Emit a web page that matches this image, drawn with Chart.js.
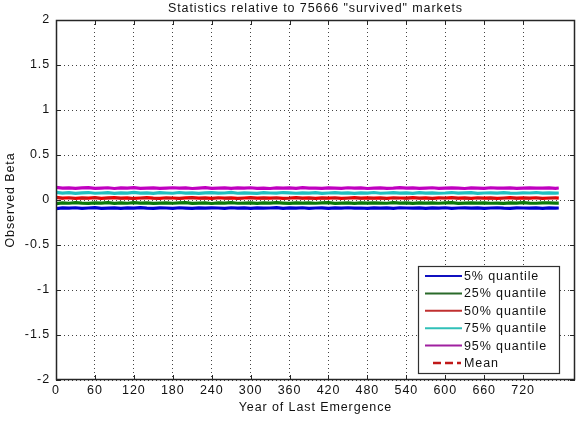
<!DOCTYPE html>
<html><head><meta charset="utf-8">
<script src="https://cdn.jsdelivr.net/npm/chart.js@4/dist/chart.umd.min.js"></script>
<style>html,body{margin:0;padding:0;background:#fff}#wrap{width:581px;height:421px}</style>
</head><body><div id="wrap"><canvas id="c" width="581" height="421"></canvas></div>
<script>
const years=[0,10,20,30,40,50,60,70,80,90,100,110,120,130,140,150,160,170,180,190,200,210,220,230,240,250,260,270,280,290,300,310,320,330,340,350,360,370,380,390,400,410,420,430,440,450,460,470,480,490,500,510,520,530,540,550,560,570,580,590,600,610,620,630,640,650,660,670,680,690,700,710,720,730,740,750,760,770,775];
const q05=[-0.095,-0.088,-0.091,-0.086,-0.093,-0.089,-0.084,-0.092,-0.090,-0.087,
-0.094,-0.088,-0.091,-0.085,-0.090,-0.093,-0.087,-0.089,-0.092,-0.086,
-0.090,-0.094,-0.088,-0.091,-0.087,-0.089,-0.093,-0.086,-0.090,-0.088,
-0.092,-0.087,-0.091,-0.089,-0.085,-0.093,-0.088,-0.090,-0.086,-0.092,
-0.089,-0.087,-0.094,-0.088,-0.090,-0.086,-0.091,-0.089,-0.093,-0.087,
-0.090,-0.088,-0.092,-0.086,-0.089,-0.091,-0.087,-0.093,-0.088,-0.090,
-0.086,-0.092,-0.089,-0.087,-0.091,-0.088,-0.094,-0.089,-0.086,-0.090,
-0.092,-0.087,-0.089,-0.091,-0.088,-0.093,-0.087,-0.090,-0.089];
const q25=[-0.040,-0.031,-0.036,-0.029,-0.035,-0.038,-0.032,-0.034,-0.030,-0.037,
-0.033,-0.036,-0.029,-0.035,-0.032,-0.038,-0.034,-0.031,-0.036,-0.033,
-0.030,-0.037,-0.034,-0.032,-0.039,-0.033,-0.035,-0.030,-0.036,-0.034,
-0.031,-0.037,-0.033,-0.035,-0.029,-0.034,-0.038,-0.032,-0.035,-0.031,
-0.036,-0.033,-0.030,-0.037,-0.034,-0.032,-0.038,-0.033,-0.035,-0.031,
-0.034,-0.036,-0.030,-0.035,-0.033,-0.038,-0.032,-0.034,-0.031,-0.036,
-0.033,-0.029,-0.037,-0.034,-0.032,-0.035,-0.031,-0.036,-0.034,-0.038,
-0.032,-0.035,-0.030,-0.034,-0.036,-0.033,-0.031,-0.035,-0.034];
const q50=[0.030,0.020,0.025,0.018,0.024,0.021,0.027,0.019,0.023,0.026,
0.020,0.024,0.017,0.022,0.026,0.021,0.019,0.025,0.022,0.018,
0.024,0.027,0.020,0.023,0.019,0.025,0.021,0.024,0.018,0.022,
0.026,0.020,0.023,0.021,0.025,0.019,0.022,0.027,0.020,0.024,
0.018,0.023,0.021,0.025,0.019,0.022,0.026,0.020,0.024,0.021,
0.023,0.018,0.025,0.022,0.020,0.026,0.021,0.023,0.019,0.024,
0.022,0.027,0.020,0.023,0.018,0.025,0.021,0.024,0.019,0.022,
0.026,0.020,0.023,0.021,0.025,0.019,0.022,0.024,0.021];
const q75=[0.085,0.076,0.081,0.074,0.079,0.083,0.075,0.078,0.082,0.073,
0.080,0.077,0.084,0.076,0.079,0.074,0.081,0.078,0.075,0.083,
0.077,0.080,0.073,0.079,0.082,0.076,0.078,0.084,0.075,0.080,
0.077,0.074,0.081,0.078,0.076,0.083,0.079,0.075,0.080,0.077,
0.082,0.074,0.078,0.081,0.076,0.079,0.073,0.080,0.077,0.083,
0.075,0.078,0.081,0.076,0.079,0.074,0.082,0.077,0.080,0.075,
0.078,0.083,0.076,0.079,0.081,0.074,0.078,0.080,0.076,0.082,
0.077,0.075,0.080,0.078,0.083,0.076,0.079,0.077,0.078];
const q95=[0.140,0.131,0.135,0.129,0.134,0.137,0.130,0.133,0.136,0.128,
0.134,0.131,0.138,0.130,0.133,0.135,0.129,0.132,0.136,0.131,
0.134,0.128,0.133,0.137,0.130,0.132,0.135,0.129,0.134,0.131,
0.136,0.130,0.133,0.128,0.135,0.132,0.134,0.130,0.137,0.131,
0.133,0.129,0.135,0.132,0.130,0.136,0.131,0.134,0.128,0.133,
0.135,0.130,0.132,0.137,0.131,0.134,0.129,0.133,0.136,0.130,
0.132,0.135,0.131,0.128,0.134,0.133,0.130,0.136,0.132,0.131,
0.134,0.129,0.133,0.135,0.131,0.132,0.134,0.130,0.133];
const meanBeta=[0.026,0.018,0.022,0.016,0.021,0.019,0.024,0.017,0.020,0.023,
0.018,0.021,0.015,0.020,0.023,0.019,0.017,0.022,0.020,0.016,
0.021,0.024,0.018,0.020,0.017,0.022,0.019,0.021,0.016,0.020,
0.023,0.018,0.021,0.019,0.022,0.017,0.020,0.024,0.018,0.021,
0.016,0.020,0.019,0.022,0.017,0.020,0.023,0.018,0.021,0.019,
0.020,0.016,0.022,0.020,0.018,0.023,0.019,0.021,0.017,0.021,
0.020,0.024,0.018,0.020,0.016,0.022,0.019,0.021,0.017,0.020,
0.023,0.018,0.021,0.019,0.022,0.017,0.020,0.021,0.019];
const seriesNames=['5% quantile','25% quantile','50% quantile','75% quantile','95% quantile','Mean'];
const xTicks=[0,60,120,180,240,300,360,420,480,540,600,660,720];
const yTicks=[-2,-1.5,-1,-0.5,0,0.5,1,1.5,2];
const titleText='Statistics relative to 75666 "survived" markets';
const xTitle='Year of Last Emergence';
const yTitle='Observed Beta';

const FONT='"Liberation Sans", Arial, Helvetica, sans-serif';
const FS=12.5;
const LS='0.9px';

const seriesData=[q05,q25,q50,q75,q95,meanBeta];
const colors=['#0000d0','#0a7a0a','#ee0000','#20c0c0','#c000c0','#c81414'];
const legendColors=['#1010c0','#2a6a2a','#c03030','#30c0b8','#a020a0','#c01818'];

function pts(arr){return years.map((x,i)=>({x:x,y:arr[i]}));}

const datasets=seriesData.map((arr,k)=>({
  label:seriesNames[k],
  data:pts(arr),
  borderColor:colors[k],
  backgroundColor:colors[k],
  borderWidth:k===5?2:3.2,
  borderDash:k===5?[8,4]:[],
  pointRadius:0,
  tension:0,
  fill:false,
  order:6-k
}));

const framePlugin={
  id:'frame',
  beforeDraw(chart){
    const ctx=chart.ctx;
    ctx.save();
    ctx.fillStyle='#fff';
    ctx.fillRect(0,0,chart.width,chart.height);
    ctx.restore();
    ctx.letterSpacing=LS;
  },
  afterDatasetsDraw(chart){
    const ctx=chart.ctx, a=chart.chartArea;
    const xs=chart.scales.x, ys=chart.scales.y;
    ctx.save();
    ctx.strokeStyle='#262626';
    ctx.lineWidth=1;
    ctx.setLineDash([]);
    ctx.beginPath();
    xTicks.forEach(v=>{
      const px=Math.round(xs.getPixelForValue(v))+0.5;
      ctx.moveTo(px,a.bottom);ctx.lineTo(px,a.bottom-5);
      ctx.moveTo(px,a.top);ctx.lineTo(px,a.top+5);
    });
    yTicks.forEach(v=>{
      const py=Math.round(ys.getPixelForValue(v))+0.5;
      ctx.moveTo(a.left,py);ctx.lineTo(a.left+5,py);
      ctx.moveTo(a.right,py);ctx.lineTo(a.right-5,py);
    });
    ctx.stroke();
    ctx.lineWidth=1.5;
    ctx.strokeRect(Math.round(a.left)+0.5,Math.round(a.top)+0.5,Math.round(a.right-a.left)-1,Math.round(a.bottom-a.top)-1);
    // legend
    const w=141,h=107;
    const lx=Math.round(a.right)-16-w, ly=Math.round(a.bottom)-7-h;
    ctx.fillStyle='#fff';
    ctx.fillRect(lx,ly,w,h);
    ctx.lineWidth=1.2;
    ctx.strokeStyle='#303030';
    ctx.strokeRect(lx+0.5,ly+0.5,w,h);
    ctx.font=FS+'px '+FONT;
    ctx.textBaseline='middle';
    ctx.textAlign='left';
    ctx.letterSpacing=LS;
    seriesNames.forEach((name,k)=>{
      const yy=ly+10+k*17.4;
      ctx.strokeStyle=legendColors[k];
      ctx.lineWidth=2;
      if(k===5){ctx.setLineDash([8,4]);ctx.lineWidth=2.5;}
      else ctx.setLineDash([]);
      ctx.beginPath();
      if(k===5){ctx.moveTo(lx+15,yy);ctx.lineTo(lx+43,yy);}
      else {ctx.moveTo(lx+7,yy);ctx.lineTo(lx+44,yy);}
      ctx.stroke();
      ctx.fillStyle='#111';
      ctx.fillText(name,lx+46,yy+0.5);
    });
    ctx.restore();
  }
};

new Chart(document.getElementById('c'),{
  type:'line',
  data:{datasets:datasets},
  plugins:[framePlugin],
  options:{
    responsive:false,
    devicePixelRatio:1,
    animation:false,
    layout:{padding:{left:0,right:6,top:0,bottom:0}},
    plugins:{
      legend:{display:false},
      tooltip:{enabled:false},
      title:{display:true,text:titleText,fullSize:false,color:'#111',
        font:{family:FONT,size:FS,weight:'normal',lineHeight:1.2},
        padding:{top:1,bottom:4}}
    },
    scales:{
      x:{type:'linear',min:0,max:800,
        afterBuildTicks(s){s.ticks=xTicks.map(v=>({value:v}));},
        afterFit(s){s.height=41;},
        ticks:{color:'#111',font:{family:FONT,size:FS},padding:3,maxRotation:0,autoSkip:false,callback:v=>String(v)},
        grid:{color:'#444',lineWidth:1,drawTicks:false},
        border:{display:false,dash:[1,3]},
        title:{display:true,text:xTitle,color:'#111',font:{family:FONT,size:FS,lineHeight:1.2},padding:{top:0,bottom:5.5}}
      },
      y:{type:'linear',min:-2,max:2,
        afterBuildTicks(s){s.ticks=yTicks.map(v=>({value:v}));},
        afterFit(s){s.width=56;},
        ticks:{color:'#111',font:{family:FONT,size:FS},padding:6,callback:v=>String(v)},
        grid:{color:'#444',lineWidth:1,drawTicks:false},
        border:{display:false,dash:[1,3]},
        title:{display:true,text:yTitle,color:'#111',font:{family:FONT,size:FS,lineHeight:1.2},padding:{top:3.5,bottom:0}}
      }
    }
  }
});
</script>
</body></html>
